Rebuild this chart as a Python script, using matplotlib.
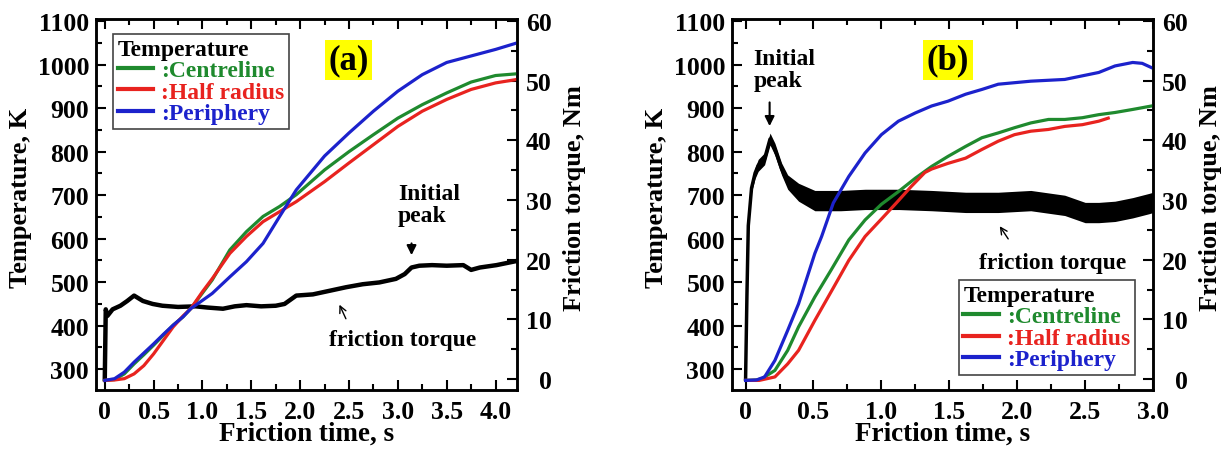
import matplotlib
matplotlib.use("Agg")
import matplotlib.pyplot as plt
from matplotlib.lines import Line2D
from matplotlib.ticker import MultipleLocator, FuncFormatter

plt.rcParams['font.family'] = ['Liberation Serif', 'DejaVu Serif']
plt.rcParams['font.weight'] = 'bold'
plt.rcParams['axes.labelweight'] = 'bold'

GREEN = '#1f8a2e'
RED = '#e8231f'
BLUE = '#1c22cc'

# ---- panel (a) data ----
t_a = [0, 0.1, 0.2, 0.3, 0.4, 0.5, 0.6, 0.7, 0.8, 0.88, 1.0, 1.1, 1.28, 1.45,
       1.62, 1.79, 1.96, 2.25, 2.5, 2.75, 3.0, 3.25, 3.5, 3.75, 4.0, 4.22]
centre_a = [274, 276, 289, 312, 333, 355, 378, 401, 420, 439, 475, 505, 574, 616,
            651, 674, 701, 758, 800, 839, 877, 908, 935, 960, 975, 979]
half_a = [274, 275, 278, 289, 308, 335, 366, 397, 422, 439, 478, 508, 566, 605,
          639, 662, 685, 731, 774, 816, 858, 893, 920, 943, 958, 966]
peri_a = [274, 278, 293, 316, 337, 358, 380, 401, 420, 439, 458, 474, 512, 547,
          589, 651, 712, 790, 843, 893, 939, 977, 1005, 1020, 1035, 1050]

t_tq_a = [0, 0.01, 0.027, 0.08, 0.16, 0.23, 0.30, 0.39, 0.49, 0.59, 0.75, 0.93,
          1.05, 1.21, 1.33, 1.45, 1.6, 1.75, 1.84, 1.96, 2.13, 2.3, 2.47, 2.64,
          2.81, 2.98, 3.07, 3.14, 3.22, 3.35, 3.5, 3.67, 3.75, 3.84, 4.01, 4.22]
torque_a = [0, 11.7, 10.6, 11.7, 12.3, 13.1, 14.0, 13.1, 12.6, 12.3, 12.1, 12.2,
            12.0, 11.8, 12.2, 12.4, 12.2, 12.3, 12.6, 14.0, 14.2, 14.8, 15.4, 15.9,
            16.2, 16.8, 17.6, 18.7, 19.0, 19.1, 19.0, 19.1, 18.3, 18.7, 19.1, 19.8]

# ---- panel (b) data ----
t_blue_b = [0, 0.08, 0.14, 0.216, 0.31, 0.39, 0.51, 0.56, 0.646, 0.76, 0.88, 1.0,
            1.125, 1.25, 1.37, 1.49, 1.62, 1.74, 1.86, 2.1, 2.35, 2.6, 2.72, 2.85,
            2.92, 2.99]
peri_b = [274, 275, 282, 320, 389, 450, 566, 605, 682, 743, 797, 839,
          870, 889, 905, 916, 932, 943, 955, 962, 966, 982, 997, 1005,
          1003, 993]

t_green_b = [0, 0.08, 0.12, 0.216, 0.31, 0.39, 0.51, 0.63, 0.76, 0.88, 1.0, 1.125,
             1.25, 1.37, 1.49, 1.62, 1.74, 1.86, 1.98, 2.1, 2.23, 2.35, 2.48, 2.6,
             2.72, 2.85, 2.99]
centre_b = [274, 275, 278, 297, 343, 397, 466, 528, 597, 643, 679, 708,
            739, 766, 789, 812, 832, 843, 855, 866, 874, 874, 878, 885,
            890, 897, 905]

t_red_b = [0, 0.1, 0.216, 0.31, 0.39, 0.51, 0.65, 0.76, 0.88, 1.0, 1.11, 1.22,
           1.32, 1.37, 1.49, 1.62, 1.74, 1.86, 1.98, 2.1, 2.23, 2.35, 2.48, 2.6,
           2.67]
half_b = [274, 274, 282, 312, 343, 412, 489, 550, 605, 645, 682, 720,
          752, 760, 773, 785, 805, 824, 839, 847, 851, 858, 862, 870,
          877]

t_tq_b = [0, 0.01, 0.02, 0.044, 0.07, 0.093, 0.14, 0.18, 0.216, 0.265, 0.31, 0.39,
          0.51, 0.7, 0.88, 1.13, 1.37, 1.62, 1.86, 2.1, 2.35, 2.5, 2.6, 2.72,
          2.85, 2.97, 3.0]
torque_b = [0, 14, 25.7, 32, 34.5, 35.8, 36.9, 40.2, 38.5, 35.2, 33, 31.3,
            29.9, 29.9, 30.1, 30.1, 29.9, 29.6, 29.6, 29.9, 29.1, 27.9, 27.9, 28.1,
            28.7, 29.4, 29.6]
spread_b = [0, 0.2, 0.4, 0.7, 0.9, 1.0, 1.0, 1.0, 1.0, 1.0, 1.2, 1.5,
            1.7, 1.7, 1.7, 1.7, 1.7, 1.7, 1.7, 1.7, 1.7, 1.7, 1.7, 1.7,
            1.7, 1.7, 1.7]

legend_labels = [':Centreline', ':Half radius', ':Periphery']
legend_colors = [GREEN, RED, BLUE]

fig = plt.figure(figsize=(12.29, 4.52), dpi=100)


def setup(ax, ax2, xmax, tag, tag_x):
    ax.set_xlim(-0.09 if xmax > 4 else -0.1, xmax)
    ax.set_ylim(252, 1105)
    ax2.set_ylim(-1.8, 60.3)
    ax.xaxis.set_major_locator(MultipleLocator(0.5))
    ax.xaxis.set_minor_locator(MultipleLocator(0.25))
    ax.yaxis.set_major_locator(MultipleLocator(100))
    ax.yaxis.set_minor_locator(MultipleLocator(50))
    ax2.yaxis.set_major_locator(MultipleLocator(10))
    ax2.yaxis.set_minor_locator(MultipleLocator(5))
    ax.xaxis.set_major_formatter(FuncFormatter(lambda v, p: '0' if abs(v) < 1e-9 else f'{v:.1f}'))
    ax.tick_params(which='both', direction='in', top=True, right=False, width=1.5,
                   labelsize=18.5)
    ax.tick_params(which='major', length=7)
    ax.tick_params(which='minor', length=4)
    ax.tick_params(axis='x', pad=7)
    ax.tick_params(axis='y', pad=5)
    ax2.tick_params(which='both', direction='in', width=1.5, labelsize=18.5, pad=25)
    ax2.tick_params(which='major', length=7)
    ax2.tick_params(which='minor', length=4)
    plt.setp(ax2.get_yticklabels(), ha='right')
    for s in ax.spines.values():
        s.set_linewidth(1.8)
    for s in ax2.spines.values():
        s.set_linewidth(1.8)
    ax.set_xlabel('Friction time, s', fontsize=19.5, fontweight='bold')
    ax.set_ylabel('Temperature, K', fontsize=19, fontweight='bold')
    ax2.set_ylabel('Friction torque, Nm', fontsize=19, fontweight='bold', rotation=90)
    ax.xaxis.set_label_coords(0.499, -0.084)
    ax.yaxis.set_label_coords(-0.151, 0.52)
    ax2.yaxis.set_label_coords(1.108, 0.52)
    ax.text(tag_x, 0.889, tag, transform=ax.transAxes, fontsize=25, ha='center',
            va='center', bbox=dict(boxstyle='square,pad=0.1', fc='#ffff00', ec='none'))
    ax.set_zorder(ax2.get_zorder() + 1)
    ax.patch.set_visible(False)


def add_legend(ax, loc, anchor):
    handles = [Line2D([], [], color=c, lw=3) for c in legend_colors]
    leg = ax.legend(handles, legend_labels, title='Temperature', alignment='left',
                    loc=loc, bbox_to_anchor=anchor, borderaxespad=0,
                    fancybox=False, edgecolor='#444444', framealpha=1,
                    prop={'weight': 'bold', 'size': 17},
                    title_fontproperties={'weight': 'bold', 'size': 17},
                    handlelength=1.5, handletextpad=0.35, labelspacing=0.0,
                    borderpad=0.2)
    leg.get_frame().set_linewidth(1.2)
    for txt, c in zip(leg.get_texts(), legend_colors):
        txt.set_color(c)


# ---------------- panel (a) ----------------
axa = fig.add_axes([0.0781, 0.1350, 0.3426, 0.8208])
axa2 = axa.twinx()
axa.plot(t_a, centre_a, color=GREEN, lw=2.3)
axa.plot(t_a, half_a, color=RED, lw=2.3)
axa.plot(t_a, peri_a, color=BLUE, lw=2.3)
axa2.plot(t_tq_a, torque_a, color='k', lw=3.2)
setup(axa, axa2, 4.22, '(a)', 0.599)
add_legend(axa, 'upper left', (0.04, 0.96))
axa2.text(3.0, 29.2, 'Initial\npeak', ha='left', va='center', fontsize=17, linespacing=1.05)
axa2.annotate('', xy=(3.14, 20.3), xytext=(3.14, 23.2),
              arrowprops=dict(arrowstyle='-|>', color='k', lw=1.5, mutation_scale=14))
axa2.text(2.3, 6.7, 'friction torque', ha='left', va='center', fontsize=17)
axa2.annotate('', xy=(2.39, 12.9), xytext=(2.48, 9.7),
              arrowprops=dict(arrowstyle='->', color='k', lw=1.0, mutation_scale=12))

# ---------------- panel (b) ----------------
axb = fig.add_axes([0.5956, 0.1350, 0.3426, 0.8208])
axb2 = axb.twinx()
axb.plot(t_green_b, centre_b, color=GREEN, lw=2.3)
axb.plot(t_red_b, half_b, color=RED, lw=2.3)
axb.plot(t_blue_b, peri_b, color=BLUE, lw=2.3)
lo_b = [m - s for m, s in zip(torque_b, spread_b)]
hi_b = [m + s for m, s in zip(torque_b, spread_b)]
axb2.fill_between(t_tq_b, lo_b, hi_b, color='k', lw=0)
axb2.plot(t_tq_b, torque_b, color='k', lw=2.5)
setup(axb, axb2, 3.0, '(b)', 0.513)
add_legend(axb, 'lower right', (0.957, 0.04))
axb2.text(0.06, 51.9, 'Initial\npeak', ha='left', va='center', fontsize=17, linespacing=1.05)
axb2.annotate('', xy=(0.177, 41.9), xytext=(0.177, 46.8),
              arrowprops=dict(arrowstyle='-|>', color='k', lw=1.5, mutation_scale=14))
axb2.text(1.72, 19.6, 'friction torque', ha='left', va='center', fontsize=17)
axb2.annotate('', xy=(1.86, 26.0), xytext=(1.945, 23.1),
              arrowprops=dict(arrowstyle='->', color='k', lw=1.0, mutation_scale=12))

fig.savefig('out.png', dpi=100)
